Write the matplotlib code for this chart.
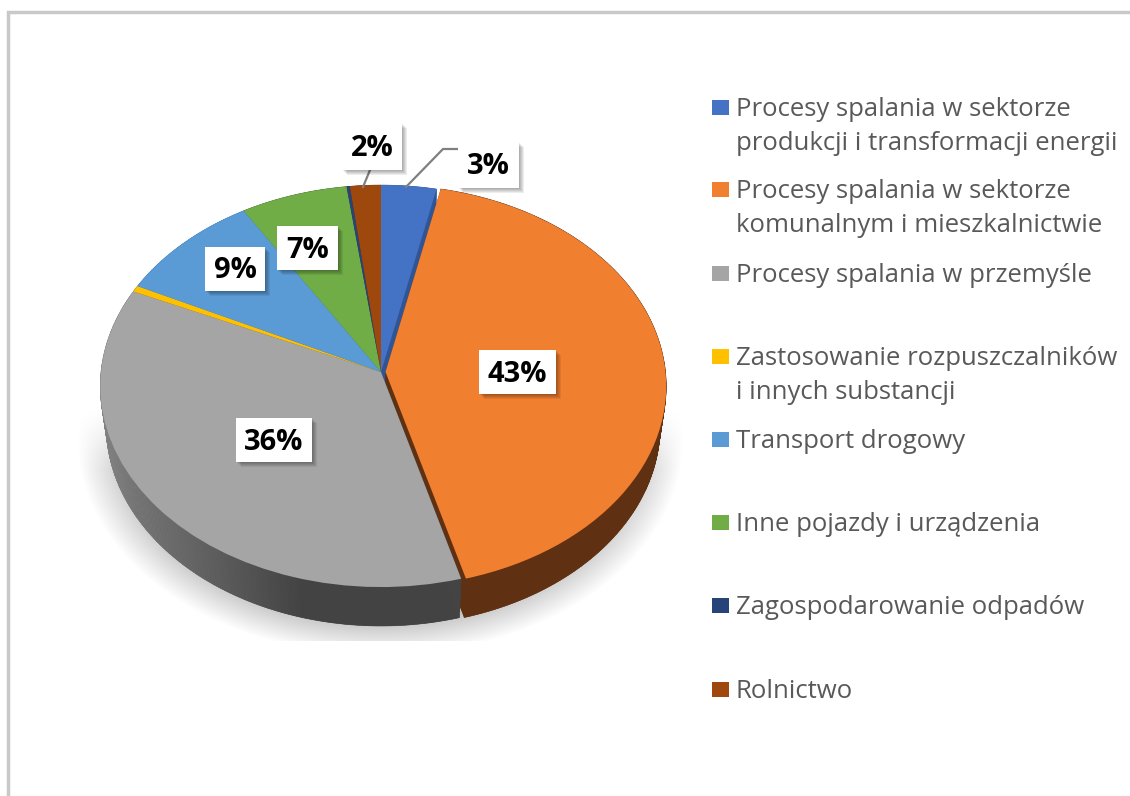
import numpy as np
import matplotlib
matplotlib.use("Agg")
import matplotlib.pyplot as plt
from matplotlib.patches import Wedge, Rectangle
from matplotlib.transforms import Transform

plt.rcParams['font.family'] = ['Open Sans', 'DejaVu Sans']

# data
categories = ["Procesy spalania w sektorze\nprodukcji i transformacji energii",
              "Procesy spalania w sektorze\nkomunalnym i mieszkalnictwie",
              "Procesy spalania w przemyśle",
              "Zastosowanie rozpuszczalników\ni innych substancji",
              "Transport drogowy",
              "Inne pojazdy i urządzenia",
              "Zagospodarowanie odpadów",
              "Rolnictwo"]
values = [3.4, 42.3, 36.1, 0.5, 9.0, 6.6, 0.2, 1.9]
shown = ["3%", "43%", "36%", None, "9%", "7%", None, "2%"]
colors = ["#4472c4", "#f07f30", "#a5a5a5", "#ffc000", "#5b9bd5", "#70ad47", "#264478", "#9e480e"]
side_colors = ["#2f5597", "#5f3112", "#444444", "#997300", "#2e75b6", "#43682b", "#172a49", "#5f2b08"]
explode = [0, 0.016, 0, 0, 0, 0, 0, 0]

# label boxes, x0, x1, y0, y1 in pixels
boxes = [(458, 519, 142, 188), (479, 556, 350, 394), (236, 312, 418, 462), None,
         (205, 265, 247, 291), (277, 338, 226, 270), None, (342, 402, 123, 170)]
legend_y = [108, 190, 274, 357, 440, 523, 606, 690]


class Tilt(Transform):
    # unit pie -> pixels, flattened and with a bit of perspective
    input_dims = 2
    output_dims = 2

    def __init__(self, cx, cy, rx, ry, b=0.07):
        super().__init__()
        self.cx, self.cy, self.rx, self.ry, self.b = cx, cy, rx, ry, b

    def transform_non_affine(self, pts):
        pts = np.asarray(pts, dtype=float)
        w = 1 + self.b * pts[:, 1]
        return np.column_stack((self.cx + self.rx * pts[:, 0] / w,
                                self.cy - self.ry * pts[:, 1] / w))


top = Tilt(381, 372, 280, 200)
low = Tilt(381, 412, 274, 199)

fig = plt.figure(figsize=(11.3, 7.96), dpi=100)
ax = fig.add_axes([0, 0, 1, 1])

# the pie itself, going clockwise from 12 o'clock
wedges, _ = ax.pie(values, colors=colors, startangle=90, counterclock=False, explode=explode)
ax.set_aspect('auto')
ax.set_xlim(0, 1130)
ax.set_ylim(796, 0)
ax.axis('off')

# soft shadow under the pie, cut off at the bottom
yy, xx = np.mgrid[400:641, 70:690]
d = np.sqrt(((xx - 380) / 303.0) ** 2 + ((yy - 440) / 215.0) ** 2)
a = np.clip((1 - d) / 0.2, 0, 1) * np.clip((yy - 410) / 60.0, 0, 1)
shadow = np.zeros(xx.shape + (4,))
shadow[..., :3] = 0.62
shadow[..., 3] = a * 0.78
ax.imshow(shadow, extent=(70, 690, 641, 400), aspect='auto', zorder=1)
ax.set_xlim(0, 1130)
ax.set_ylim(796, 0)


def rim_color(i, x):
    if i == 2:
        g = np.interp(x, [105, 300], [0x80, 0x43]) / 255
        return (g, g, g)
    return side_colors[i]


# walls: blue and the back slices first, then orange and gray on top of them
for i in [0, 7, 6, 5, 4, 3, 1, 2]:
    w = wedges[i]
    z = 2 + [0, 7, 6, 5, 4, 3, 1, 2].index(i) * 0.1
    ax.add_patch(Wedge(w.center, 1, w.theta1, w.theta2, color=side_colors[i], lw=0,
                       transform=low + ax.transData, zorder=z))
    t = np.radians(np.linspace(w.theta1, w.theta2, max(4, int(abs(w.theta2 - w.theta1) * 2))))
    p = np.column_stack((w.center[0] + np.cos(t), w.center[1] + np.sin(t)))
    up = top.transform(p)
    dn = low.transform(p)
    for j in range(len(t) - 1):
        c = rim_color(i, up[j, 0])
        ax.fill([up[j, 0], up[j + 1, 0], dn[j + 1, 0], dn[j, 0]],
                [up[j, 1], up[j + 1, 1], dn[j + 1, 1], dn[j, 1]],
                color=c, lw=0.4, zorder=z)
    # cut face between top and bottom of the slice
    cen = np.array([w.center])
    for k in [0, -1]:
        q = np.vstack((top.transform(cen), up[k:][:1], dn[k:][:1], low.transform(cen)))
        ax.fill(q[:, 0], q[:, 1], color=side_colors[i], lw=0, zorder=z)

# top faces
for w in wedges:
    w.set_transform(top + ax.transData)
    w.set_zorder(4)
    w.set_linewidth(0)

# leader lines
ax.plot([370, 363], [170, 187], color="#7f7f7f", lw=1.6, zorder=5)
ax.plot([457, 443, 406], [149, 149, 187], color="#7f7f7f", lw=1.6, zorder=5)

# value labels in white boxes with a shadow
for txt, b in zip(shown, boxes):
    if txt is None:
        continue
    x0, x1, y0, y1 = b
    for k in range(1, 6):
        ax.add_patch(Rectangle((x0 + k, y0 + k), x1 - x0, y1 - y0, color="black", alpha=0.07, lw=0, zorder=6))
    ax.add_patch(Rectangle((x0, y0), x1 - x0, y1 - y0, color="white", lw=0, zorder=7))
    ax.text((x0 + x1) / 2, (y0 + y1) / 2 + 2, txt, ha='center', va='center', fontsize=21,
            fontweight='bold', color="black", zorder=8)

# legend
for name, c, y in zip(categories, colors, legend_y):
    ax.add_patch(Rectangle((712, y - 8), 17, 15, color=c, lw=0, zorder=3))
    ax.text(736, y - 11, name, ha='left', va='top', fontsize=18.5, color="#595959", linespacing=1.45, zorder=3)

# chart frame
ax.plot([8, 8, 1130], [796, 12, 12], color="#c9c9c9", lw=2.5, zorder=9, solid_joinstyle='miter')

fig.savefig("out.png", dpi=100)
